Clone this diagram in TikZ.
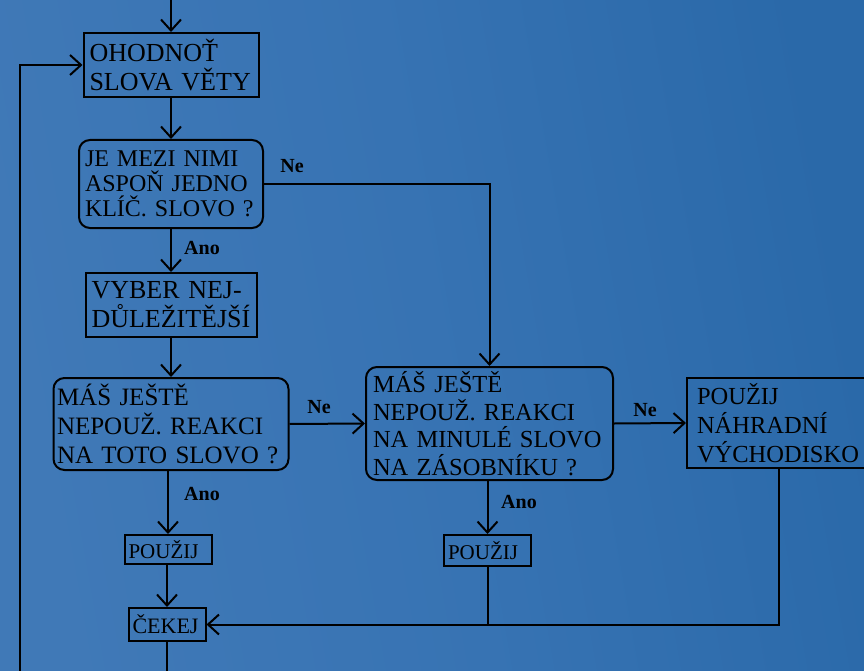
\documentclass[tikz,border=0pt]{standalone}
\usepackage{fontspec}
\setmainfont{Liberation Serif}
\usetikzlibrary{arrows.meta,positioning,calc}
\definecolor{bgleft}{HTML}{4079B7}
\definecolor{bgright}{HTML}{2A69A9}
\definecolor{bgmid}{HTML}{3773B3}

\tikzset{
  flowline/.style={line width=2pt,black},
  arr/.style={flowline,-{Straight Barb[length=11pt,width=20pt,line width=2pt]}},
  stepbox/.style={draw,line width=2pt,align=left,inner xsep=6pt,inner ysep=0pt,font=\fontsize{26}{29}\selectfont},
  askbox/.style={stepbox,rounded corners=11pt},
  smallbox/.style={stepbox,inner xsep=4pt,font=\fontsize{21}{23}\selectfont},
  answer/.style={font=\bfseries\fontsize{20}{22}\selectfont}
}

\begin{document}
\begin{tikzpicture}[x=1pt,y=-1pt]
  \useasboundingbox (0,0) rectangle (864,671);
  \shade[left color=bgleft,right color=bgright,middle color=bgmid,shading angle=100] (0,0) rectangle (864,671);
  % boxes
  \node[stepbox,text width=163pt,minimum height=64pt] (eval) at (171,65) {OHODNOŤ\\SLOVA VĚTY};
  \node[askbox,text width=172pt,minimum height=88pt,font=\fontsize{24}{25}\selectfont] (keyq) at (171,184) {JE MEZI NIMI\\ASPOŇ JEDNO\\KLÍČ. SLOVO~?};
  \node[stepbox,text width=159pt,minimum height=64pt] (pick) at (171,305) {VYBER NEJ-\\DŮLEŽITĚJŠÍ};
  \node[askbox,text width=228pt,minimum height=92pt,inner xsep=3.5pt,font=\fontsize{25}{29}\selectfont] (thisq) at (171,424) {MÁŠ JEŠTĚ\\NEPOUŽ. REAKCI\\NA TOTO SLOVO~?};
  \node[askbox,text width=233pt,minimum height=113pt,inner xsep=7pt,font=\fontsize{24.5}{27.5}\selectfont] (lastq) at (489.5,423.5) {MÁŠ JEŠTĚ\\NEPOUŽ. REAKCI\\NA MINULÉ SLOVO\\NA ZÁSOBNÍKU~?};
  \node[stepbox,text width=178pt,minimum height=90pt,inner xsep=10pt,font=\fontsize{24.5}{29}\selectfont] (spare) at (786,423) {POUŽIJ\\NÁHRADNÍ\\VÝCHODISKO};
  \node[smallbox,text width=79pt,minimum height=29pt] (usea) at (168,549.5) {POUŽIJ};
  \node[smallbox,text width=79pt,minimum height=31pt] (useb) at (487.5,550.5) {POUŽIJ};
  \node[smallbox,text width=69pt,minimum height=33pt,font=\fontsize{22}{24}\selectfont] (wait) at (167,624.5) {ČEKEJ};
  % free ends
  \coordinate (entry) at (171,0);
  \coordinate (exit) at (167,671);
  \coordinate (loop) at (20,671);
  \coordinate (join) at (779,468);
  % connectors
  \draw[arr] (entry) -- (eval.north);
  \draw[arr] (loop) |- (eval.west);
  \draw[arr] (eval.south) -- (keyq.north);
  \draw[arr] (keyq.south) -- (pick.north);
  \draw[arr] (keyq.east) -| (lastq.north);
  \draw[arr] (pick.south) -- (thisq.north);
  \draw[arr] (thisq.east) -- (lastq.west);
  \draw[arr] (lastq.east) -- (spare.west);
  \draw[arr] (thisq.south -| usea.north) -- (usea.north);
  \draw[arr] (lastq.south -| useb.north) -- (useb.north);
  \draw[arr] (usea.south -| wait.north) -- (wait.north);
  \draw[arr] (join) |- (wait.east);
  \draw[flowline] (useb.south) -- (useb.south |- wait.east);
  \draw[flowline] (wait.south) -- (exit);
  % answers
  \node[answer] (ne1) at (292,166) {Ne};
  \node[answer] (ne2) at (319,407) {Ne};
  \node[answer] (ne3) at (645,410) {Ne};
  \node[answer] (ano1) at (202,248) {Ano};
  \node[answer] (ano2) at (202,494) {Ano};
  \node[answer] (ano3) at (519,502) {Ano};
\end{tikzpicture}
\end{document}
